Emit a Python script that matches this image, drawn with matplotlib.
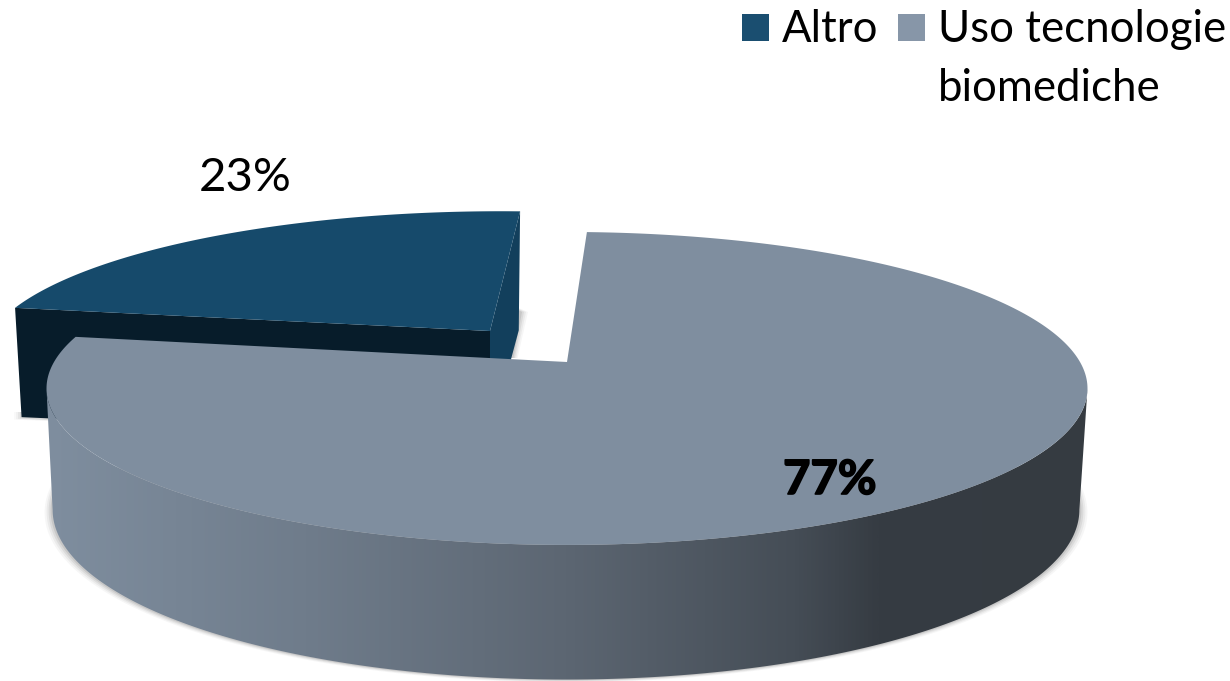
import matplotlib
matplotlib.use("Agg")
import matplotlib.pyplot as plt
import matplotlib.patheffects as pe
from matplotlib.colors import LinearSegmentedColormap
from matplotlib.patches import Polygon, Rectangle
import numpy as np

##### Dati #####
categories = ["Altro", "Uso tecnologie\nbiomediche"]
shares = [23, 77]
labels = ["23%", "77%"]

##### Stile #####
C_ALTRO_TOP = "#164a6b"
C_ALTRO_FRONT = "#071c2a"
C_ALTRO_WALL = "#123f5c"
C_USO_TOP = "#7f8e9f"
LEG_ALTRO = "#1a4e70"
LEG_USO = "#8796a8"
FONT = "Lato"

PERSP = 0.169
START = 2.6

# cx, cy, a, h, shear (pixel della figura)
USO_TOP = (567, 362, 513, 152, 0)
USO_BOT = (566, 481, 506, 165, 0)
ALTRO_TOP = (490, 331, 498, 140, 0.09)
ALTRO_BOT = (490, 438, 491, 126, 0.09)


def project(theta, layer):
  cx, cy, a, h, shear = layer
  t = np.radians(theta)
  w = 1 + PERSP * np.cos(t)
  dy = h * np.cos(t) / w
  return cx + a * np.sin(t) / w + shear * dy, cy - dy


def arc(t0, t1, layer, n=200):
  x, y = project(np.linspace(t0, t1, n), layer)
  return np.column_stack([x, y])


fig = plt.figure(figsize=(12.3, 6.81), dpi=100)
ax = fig.add_axes([0, 0, 1, 1])
ax.set_xlim(0, 1230)
ax.set_ylim(681, 0)
ax.axis("off")

uso_start = START
uso_end = START + shares[1] * 3.6
altro_end = uso_end + shares[0] * 3.6
edge = np.degrees(np.arccos(-PERSP))

##### Ombre #####
for grow, alpha in [(8, 0.05), (6, 0.07), (4, 0.1), (2, 0.14)]:
  x, y = project(np.linspace(edge - 15, 360 - edge + 15, 200), USO_BOT)
  ax.add_patch(Polygon(np.column_stack([566 + (x - 566) * (1 + grow / 513), y + grow * 0.35]),
                       color="#555555", alpha=alpha, lw=0, zorder=1))
  ax.add_patch(Polygon([[500, 300], [520 + grow, 312], [512 + grow * 0.7, 358], [500, 358]],
                       color="#555555", alpha=alpha, lw=0, zorder=1))
  ax.add_patch(Polygon([[22 - grow, 412], [60, 412], [60, 420 + grow * 0.2], [22 - grow, 418 + grow * 0.2]],
                       color="#555555", alpha=alpha * 0.7, lw=0, zorder=1))

##### Fetta Altro #####
apex_t = np.array([ALTRO_TOP[0], ALTRO_TOP[1]])
apex_b = np.array([ALTRO_BOT[0], ALTRO_BOT[1]])
end_l_t = arc(uso_end, uso_end, ALTRO_TOP, 1)[0]
end_l_b = arc(uso_end, uso_end, ALTRO_BOT, 1)[0]
end_r_t = arc(altro_end, altro_end, ALTRO_TOP, 1)[0]
end_r_b = arc(altro_end, altro_end, ALTRO_BOT, 1)[0]

ax.add_patch(Polygon([end_r_t, apex_t, apex_b, end_r_b], color=C_ALTRO_WALL, lw=0, zorder=2))
ax.add_patch(Polygon([end_l_t, apex_t, apex_b, end_l_b], color=C_ALTRO_FRONT, lw=0, zorder=2))
ax.add_patch(Polygon(np.vstack([[apex_t], arc(uso_end, altro_end, ALTRO_TOP)]),
                     color=C_ALTRO_TOP, lw=0, zorder=3))

##### Fetta Uso tecnologie #####
side = Polygon(np.vstack([arc(edge, 360 - edge, USO_TOP), arc(360 - edge, edge, USO_BOT)]),
               transform=ax.transData, lw=0)
ax.add_patch(side)
side.set_visible(False)
cmap = LinearSegmentedColormap.from_list("lato", [
  (0.00, "#7f8e9f"), (0.25, "#6f7c8b"), (0.50, "#5c6672"),
  (0.72, "#454d56"), (0.80, "#363c43"), (1.00, "#353b41"),
])
grad = ax.imshow(np.linspace(0, 1, 512).reshape(1, -1), cmap=cmap, aspect="auto",
                 extent=(45, 1088, 690, 300), zorder=4)
grad.set_clip_path(Polygon(side.get_xy(), transform=ax.transData))
ax.set_xlim(0, 1230)
ax.set_ylim(681, 0)

ax.add_patch(Polygon(np.vstack([[USO_TOP[:2]], arc(uso_start, uso_end, USO_TOP, 400)]),
                     color=C_USO_TOP, lw=0, zorder=5))

##### Testi #####
ax.text(245, 178, labels[0], fontsize=34, family=FONT, color="black",
        ha="center", va="center", zorder=6)
ax.text(830, 480, labels[1], fontsize=34, family=FONT, weight="bold", color="black",
        ha="center", va="center", zorder=6,
        path_effects=[pe.withStroke(linewidth=1.2, foreground="black")])

ax.add_patch(Rectangle((742, 14), 27, 27, color=LEG_ALTRO, lw=0))
ax.add_patch(Rectangle((898, 14), 27, 27, color=LEG_USO, lw=0))
ax.text(782, 42, categories[0], fontsize=31.5, family=FONT, color="black", va="baseline")
ax.text(938, 42, categories[1].split("\n")[0], fontsize=31.5, family=FONT, color="black", va="baseline")
ax.text(938, 101, categories[1].split("\n")[1], fontsize=31.5, family=FONT, color="black", va="baseline")

fig.savefig("out.png", dpi=100)
